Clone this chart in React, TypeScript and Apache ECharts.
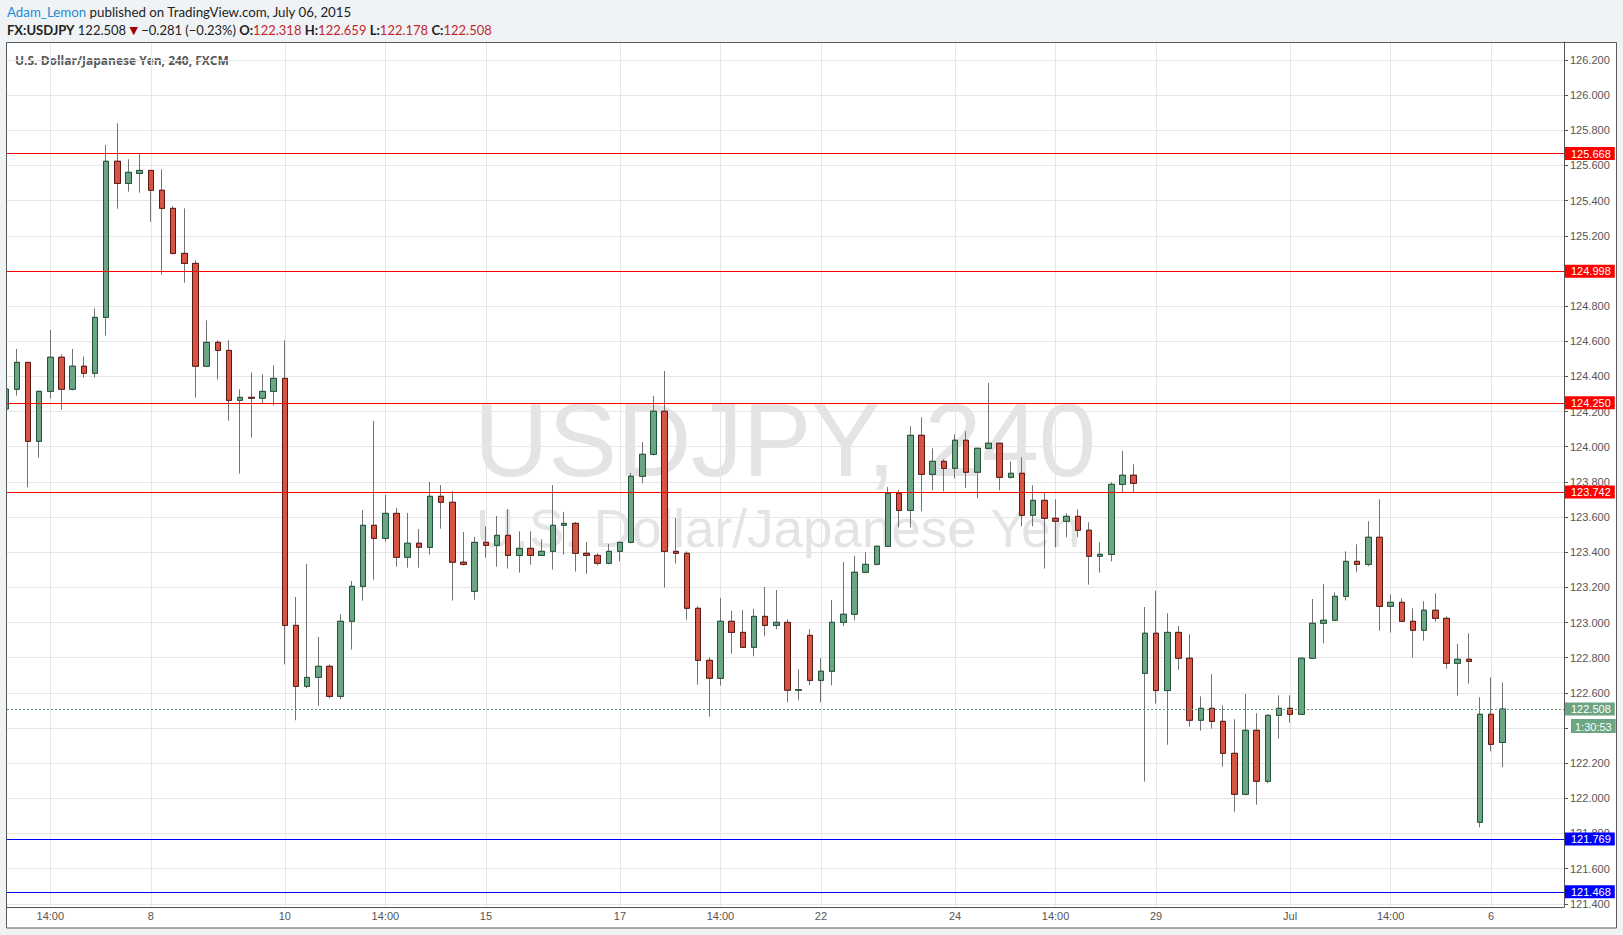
import React, { useEffect, useRef } from "react";
import * as echarts from "echarts";

// ---- data (240-minute candles, index 0 = first visible candle) ----
const openPrices = [
  124.215, 124.327, 124.48, 124.031, 124.315, 124.509, 124.327, 124.458, 124.418, 124.736,
  125.624, 125.498, 125.555, 125.572, 125.459, 125.356, 125.1, 125.043, 124.458, 124.594,
  124.548, 124.264, 124.281, 124.276, 124.315, 124.389, 122.984, 122.637, 122.688, 122.751,
  122.58, 123.007, 123.206, 123.553, 123.479, 123.621, 123.371, 123.451, 123.428, 123.718,
  123.684, 123.343, 123.178, 123.456, 123.439, 123.496, 123.382, 123.422, 123.382, 123.405,
  123.553, 123.564, 123.394, 123.382, 123.337, 123.405, 123.456, 123.832, 123.957, 124.202,
  123.405, 123.394, 123.081, 122.785, 122.683, 123.007, 122.944, 122.859, 123.035, 122.984,
  123.001, 122.615, 122.927, 122.671, 122.723, 123.001, 123.047, 123.286, 123.331, 123.434,
  123.735, 123.638, 124.065, 123.843, 123.917, 123.877, 124.037, 123.855, 123.991, 124.02,
  123.826, 123.849, 123.61, 123.695, 123.593, 123.576, 123.604, 123.525, 123.377, 123.388,
  123.786, 123.838, 122.711, 122.939, 122.613, 122.944, 122.797, 122.444, 122.512, 122.438,
  122.256, 122.023, 122.387, 122.097, 122.472, 122.512, 122.478, 122.797, 122.996, 123.013,
  123.149, 123.348, 123.331, 123.485, 123.092, 123.115, 123.007, 122.956, 123.07, 123.024,
  122.768, 122.791, 121.864, 122.478, 122.318,
];
const highPrices = [
  124.35, 124.556, 124.48, 124.32, 124.664, 124.526, 124.556, 124.514, 124.787, 125.717,
  125.84, 125.635, 125.669, 125.572, 125.578, 125.368, 125.356, 125.06, 124.719, 124.605,
  124.605, 124.327, 124.423, 124.412, 124.463, 124.605, 123.145, 123.333, 122.918, 122.762,
  123.047, 123.236, 123.64, 124.147, 123.726, 123.652, 123.623, 123.532, 123.8, 123.782,
  123.748, 123.515, 123.487, 123.547, 123.606, 123.646, 123.519, 123.519, 123.473, 123.782,
  123.629, 123.572, 123.458, 123.394, 123.447, 123.458, 123.851, 124.027, 124.289, 124.431,
  123.595, 123.405, 123.092, 122.802, 123.14, 123.066, 123.071, 123.077, 123.202, 123.185,
  123.018, 122.734, 122.962, 122.797, 123.128, 123.345, 123.379, 123.4, 123.44, 123.771,
  123.754, 124.116, 124.167, 123.991, 123.929, 124.071, 124.088, 123.995, 124.363, 124.022,
  123.917, 123.94, 123.781, 123.741, 123.701, 123.621, 123.644, 123.57, 123.456, 123.798,
  123.976, 123.9, 123.088, 123.18, 123.053, 122.98, 122.933, 122.58, 122.706, 122.529,
  122.45, 122.594, 122.484, 122.478, 122.586, 122.586, 122.802, 123.134, 123.219, 123.172,
  123.405, 123.445, 123.576, 123.701, 123.16, 123.137, 123.081, 123.121, 123.166, 123.035,
  122.878, 122.939, 122.575, 122.688, 122.659,
];
const lowPrices = [
  124.2, 124.291, 123.77, 123.938, 124.274, 124.211, 124.32, 124.393, 124.393, 124.632,
  125.354, 125.451, 125.445, 125.28, 124.979, 125.093, 124.933, 124.279, 124.458, 124.382,
  124.148, 123.847, 124.052, 124.247, 124.234, 122.762, 122.444, 122.626, 122.527, 122.569,
  122.563, 122.846, 123.125, 123.244, 123.46, 123.318, 123.312, 123.312, 123.386, 123.534,
  123.125, 123.324, 123.13, 123.369, 123.318, 123.307, 123.284, 123.329, 123.382, 123.301,
  123.386, 123.29, 123.278, 123.324, 123.331, 123.348, 123.45, 123.792, 123.95, 123.199,
  123.335, 123.016, 122.647, 122.465, 122.641, 122.823, 122.859, 122.808, 122.922, 122.962,
  122.546, 122.558, 122.643, 122.546, 122.643, 122.979, 123.013, 123.28, 123.325, 123.43,
  123.542, 123.542, 123.633, 123.752, 123.746, 123.82, 123.764, 123.707, 123.985, 123.752,
  123.82, 123.547, 123.547, 123.307, 123.428, 123.485, 123.485, 123.216, 123.284, 123.348,
  123.741, 123.741, 122.095, 122.539, 122.305, 122.732, 122.408, 122.385, 122.396, 122.18,
  121.924, 122.017, 121.964, 122.086, 122.34, 122.431, 122.475, 122.795, 122.882, 123.01,
  123.126, 123.286, 123.32, 122.954, 122.943, 123.005, 122.8, 122.897, 123.005, 122.738,
  122.584, 122.652, 121.835, 122.268, 122.178,
];
const closePrices = [
  124.328, 124.48, 124.031, 124.315, 124.509, 124.327, 124.458, 124.418, 124.736, 125.624,
  125.498, 125.561, 125.572, 125.459, 125.356, 125.1, 125.043, 124.458, 124.594, 124.548,
  124.264, 124.281, 124.276, 124.315, 124.389, 122.984, 122.637, 122.688, 122.751, 122.58,
  123.007, 123.206, 123.553, 123.479, 123.621, 123.371, 123.451, 123.428, 123.718, 123.684,
  123.343, 123.331, 123.456, 123.439, 123.496, 123.382, 123.422, 123.382, 123.405, 123.553,
  123.564, 123.394, 123.382, 123.337, 123.405, 123.456, 123.832, 123.957, 124.202, 123.405,
  123.394, 123.081, 122.785, 122.683, 123.007, 122.944, 122.859, 123.035, 122.984, 123.001,
  122.615, 122.618, 122.671, 122.723, 123.001, 123.047, 123.286, 123.331, 123.434, 123.735,
  123.638, 124.065, 123.843, 123.917, 123.877, 124.037, 123.855, 123.991, 124.02, 123.826,
  123.849, 123.61, 123.695, 123.593, 123.576, 123.604, 123.525, 123.377, 123.388, 123.786,
  123.838, 123.792, 122.939, 122.613, 122.944, 122.797, 122.444, 122.512, 122.438, 122.256,
  122.023, 122.387, 122.097, 122.472, 122.512, 122.478, 122.797, 122.996, 123.013, 123.149,
  123.348, 123.331, 123.485, 123.092, 123.115, 123.007, 122.956, 123.07, 123.024, 122.768,
  122.791, 122.779, 122.478, 122.307, 122.508,
];

const timeTickIndex = [4, 13, 25, 34, 43, 55, 64, 73, 85, 94, 103, 115, 124, 133];
const timeTickLabels = ["14:00", "8", "10", "14:00", "15", "17", "14:00", "22", "24", "14:00", "29", "Jul", "14:00", "6"];

const priceTicks = [
  121.4, 121.6, 121.8, 122.0, 122.2, 122.4, 122.6, 122.8, 123.0, 123.2, 123.4, 123.6, 123.8,
  124.0, 124.2, 124.4, 124.6, 124.8, 125.0, 125.2, 125.4, 125.6, 125.8, 126.0, 126.2,
];

const redLevels = [125.668, 124.998, 124.25, 123.742];
const blueLevels = [121.769, 121.468];
const lastPrice = 122.508;
const countdown = "1:30:53";

const UP_FILL = "#6ba583";
const UP_BORDER = "#225437";
const DOWN_FILL = "#d75442";
const DOWN_BORDER = "#5b1a13";
const WICK = "#737375";
const PAGE_BG = "#f0f3f6";
const FONT = 'Arial, "Liberation Sans", sans-serif';
const HFONT = 'Lato, "Open Sans", sans-serif';
const TFONT = '"Open Sans", Lato, sans-serif';

export default function App() {
  const ref = useRef<HTMLDivElement>(null);

  useEffect(() => {
    document.body.style.margin = "0";
    if (!ref.current) return;
    const chart = echarts.init(ref.current, null, { renderer: "svg" });

    const idx = openPrices.map((_, i) => i);
    const wickData = idx.map((i) => [i, openPrices[i], closePrices[i], lowPrices[i], highPrices[i]]);
    const bodyData = idx.map((i) => [
      i,
      openPrices[i],
      closePrices[i],
      Math.min(openPrices[i], closePrices[i]),
      Math.max(openPrices[i], closePrices[i]),
    ]);

    const levelLabel = (bg: string) => ({
      show: true,
      position: "end",
      distance: 1,
      formatter: (p: any) => Number(p.value).toFixed(3),
      backgroundColor: bg,
      color: "#ffffff",
      fontFamily: FONT,
      fontSize: 11,
      lineHeight: 12,
      padding: [1, 4, 0, 6],
    });

    const markData: any[] = [];
    redLevels.forEach((v) =>
      markData.push({ yAxis: v, lineStyle: { color: "#ff0000", width: 1, type: "solid" }, label: levelLabel("#ff0000") })
    );
    blueLevels.forEach((v) =>
      markData.push({ yAxis: v, lineStyle: { color: "#0000ff", width: 1, type: "solid" }, label: levelLabel("#0000ff") })
    );
    markData.push({
      yAxis: lastPrice,
      lineStyle: { color: "#5f9c78", width: 1, type: [2, 2] },
      label: levelLabel(UP_FILL),
    });

    const labelMap: Record<number, string> = {};
    timeTickIndex.forEach((t, k) => (labelMap[t] = timeTickLabels[k]));

    chart.setOption({
      animation: false,
      backgroundColor: PAGE_BG,
      grid: { left: 7, right: 59, top: 42, bottom: 28, containLabel: false },
      xAxis: {
        type: "value",
        min: 0.125,
        max: 139.52,
        axisLine: { show: true, onZero: false, lineStyle: { color: "#555", width: 1 } },
        axisTick: { show: false, customValues: timeTickIndex },
        axisLabel: {
          customValues: timeTickIndex,
          formatter: (v: number) => labelMap[Math.round(v)] ?? "",
          color: "#555",
          fontFamily: FONT,
          fontSize: 11,
          margin: 3,
        },
        splitLine: { show: true, lineStyle: { color: "#e6e6e6", width: 1 } },
      },
      yAxis: {
        type: "value",
        position: "right",
        min: 121.3818,
        max: 126.3024,
        axisLine: { show: true, onZero: false, lineStyle: { color: "#555", width: 1 } },
        axisTick: { show: true, length: 4, customValues: priceTicks, lineStyle: { color: "#555" } },
        axisLabel: {
          customValues: priceTicks,
          formatter: (v: number) => v.toFixed(3),
          color: "#555",
          fontFamily: FONT,
          fontSize: 11,
          margin: 6,
        },
        splitLine: { show: true, lineStyle: { color: "#e6e6e6", width: 1 } },
      },
      series: [
        {
          type: "candlestick",
          name: "wick",
          data: wickData,
          barWidth: 6,
          silent: true,
          itemStyle: { color: WICK, color0: WICK, borderColor: WICK, borderColor0: WICK, borderWidth: 1 },
        },
        {
          type: "candlestick",
          name: "USDJPY",
          data: bodyData,
          barWidth: 6,
          silent: true,
          itemStyle: {
            color: UP_FILL,
            color0: DOWN_FILL,
            borderColor: UP_BORDER,
            borderColor0: DOWN_BORDER,
            borderWidth: 1,
          },
          markLine: {
            silent: true,
            symbol: ["none", "none"],
            precision: 3,
            data: markData,
          },
        },
      ],
      graphic: [
        {
          type: "rect",
          z: -100,
          shape: { x: 6.5, y: 42.5, width: 1610, height: 885.5 },
          style: { fill: "#ffffff", stroke: "none" },
        },
        {
          type: "text",
          z: -50,
          x: 785,
          y: 492,
          style: {
            text: "USDJPY, 240",
            font: `103px ${FONT}`,
            fill: "#e4e4e4",
            align: "center",
            textAlign: "center",
            verticalAlign: "bottom",
            textVerticalAlign: "bottom",
          },
        },
        {
          type: "text",
          z: -50,
          x: 778,
          y: 555,
          style: {
            text: "U.S. Dollar/Japanese Yen",
            font: `53px ${FONT}`,
            fill: "#e4e4e4",
            align: "center",
            textAlign: "center",
            verticalAlign: "bottom",
            textVerticalAlign: "bottom",
          },
        },
        {
          type: "text",
          x: 15,
          y: 60,
          style: {
            text: "U.S. Dollar/Japanese Yen, 240, FXCM",
            font: `bold 12px ${TFONT}`,
            fill: "#585858",
            verticalAlign: "middle",
            textVerticalAlign: "middle",
          },
        },
        {
          type: "text",
          x: 7,
          y: 12,
          style: {
            text: "{a|Adam_Lemon} published on TradingView.com, July 06, 2015",
            font: `13.3px ${HFONT}`,
            fill: "#222",
            verticalAlign: "middle",
            textVerticalAlign: "middle",
            rich: {
              a: { fill: "#1e8bd1", fontSize: 13.3, fontFamily: HFONT },
            },
          },
        },
        {
          type: "text",
          x: 7,
          y: 30,
          style: {
            text:
              "{b|FX:USDJPY} 122.508 {t|▼} −0.281 (−0.23%) {b|O:}{r|122.318} {b|H:}{r|122.659} {b|L:}{r|122.178} {b|C:}{r|122.508}",
            font: `13px ${HFONT}`,
            fill: "#222",
            verticalAlign: "middle",
            textVerticalAlign: "middle",
            rich: {
              b: { fontWeight: "bold", fill: "#222", fontSize: 13, fontFamily: HFONT },
              t: { fill: "#a30000", fontSize: 11, fontFamily: '"DejaVu Sans", sans-serif' },
              r: { fill: "#c0282d", fontSize: 13, fontFamily: HFONT },
            },
          },
        },
        // page-coloured strip left of the frame (hides the clipped first candle) and frame outline
        {
          type: "rect",
          z: 100,
          silent: true,
          shape: { x: 0, y: 42, width: 6, height: 890 },
          style: { fill: PAGE_BG, stroke: "none" },
        },
        {
          type: "rect",
          z: 101,
          silent: true,
          shape: { x: 6.5, y: 42.5, width: 1610, height: 885.5 },
          style: { fill: "none", stroke: "#5a5a5a", lineWidth: 1 },
        },
        {
          type: "text",
          z: 100,
          x: 1571,
          y: 719,
          style: {
            text: countdown,
            font: `11px ${FONT}`,
            fill: "#ffffff",
            backgroundColor: UP_FILL,
            padding: [1, 4, 0, 4],
            lineHeight: 13,
            verticalAlign: "top",
            textVerticalAlign: "top",
          },
        },
      ],
    });

    return () => chart.dispose();
  }, []);

  return <div ref={ref} style={{ width: 1623, height: 935 }} />;
}
